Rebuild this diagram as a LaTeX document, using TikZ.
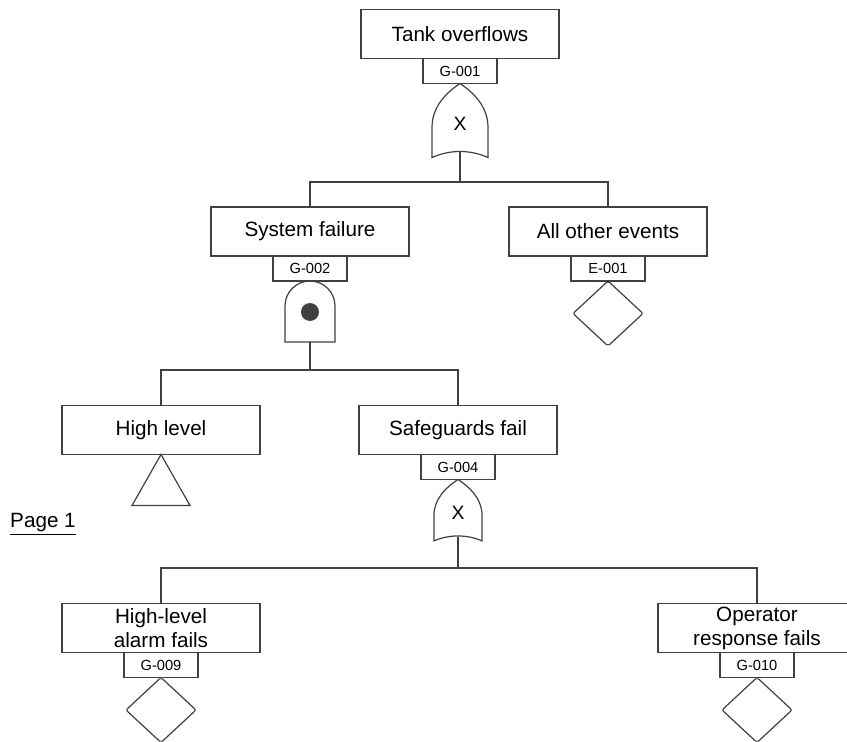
\documentclass[tikz,border=0pt]{standalone}
\usepackage{fontspec}
\setmainfont{Liberation Sans}
\usetikzlibrary{shapes.geometric}
\definecolor{linecol}{HTML}{404040}

\begin{document}
\begin{tikzpicture}[x=0.75pt, y=-0.75pt,
  wire/.style={draw=linecol, line width=0.9pt},
  event/.style={wire, outer sep=0pt, inner sep=0pt, minimum width=148.5pt, minimum height=36.75pt,
    align=center, font=\fontsize{15.5}{18}\selectfont},
  tag/.style={wire, outer sep=0pt, inner sep=0pt, minimum width=55.5pt, minimum height=18.75pt,
    anchor=north, font=\fontsize{11}{12}\selectfont},
  undev/.style={diamond, wire, outer sep=0pt, inner sep=0pt, minimum width=52.5pt, minimum height=48.75pt,
    rounded corners=1.5pt, anchor=north},
  pics/orgate/.style={code={
    \draw[wire] (-28,74) -- (-28,44) .. controls (-28,22) and (-12,8) .. (0,0)
      .. controls (12,8) and (28,22) .. (28,44) -- (28,74)
      .. controls (10,66) and (-10,66) .. cycle;
    \node[font=\fontsize{14.5}{15}\selectfont] at (0,40) {X};
    \coordinate (-out) at (0,69);
  }},
  pics/andgate/.style={code={
    \draw[wire] (-25,61) -- (-25,25) .. controls (-25,11.2) and (-13.8,0) .. (0,0)
      .. controls (13.8,0) and (25,11.2) .. (25,25) -- (25,61) -- cycle;
    \fill[linecol] (0,31) circle (6.75pt); % dot
    \coordinate (-out) at (0,61);
  }}]
  \useasboundingbox (0,0) rectangle (847,742);
  \clip (0,0) rectangle (847,742);

  % top event
  \node[event] (top) at (460,34) {Tank overflows};
  \node[tag] (t1) at (top.south) {G-001};
  \pic (or1) at (t1.south) {orgate};
  \coordinate (bus1) at (460,182);

  % second level
  \node[event] (sys) at (310,231.5) {System failure};
  \node[tag] (t2) at (sys.south) {G-002};
  \pic (and1) at (t2.south) {andgate};
  \node[event] (other) at (608,231.5) {All other events};
  \node[tag] (e1) at (other.south) {E-001};
  \node[undev] (d1) at (e1.south) {};
  \coordinate (bus2) at (310,370);

  % third level
  \node[event] (hl) at (161,430) {High level};
  \draw[wire] (hl.south) -- ++(29,51) -- ++(-58,0) -- cycle; % transfer
  \node[event] (safe) at (458,430) {Safeguards fail};
  \node[tag] (t4) at (safe.south) {G-004};
  \pic[xscale=0.86, yscale=0.83] (or2) at (t4.south) {orgate};
  \coordinate (bus3) at (458,568);

  % bottom level
  \node[event] (alarm) at (161,628) {High-level\\alarm fails};
  \node[tag] (t9) at (alarm.south) {G-009};
  \node[undev] (d9) at (t9.south) {};
  \node[event] (oper) at (757,628) {Operator\\response fails};
  \node[tag] (t10) at (oper.south) {G-010};
  \node[undev] (d10) at (t10.south) {};

  \node[font=\fontsize{15.5}{18}\selectfont] (page) at (43,524) {\underline{Page 1}};

  % connectors
  \draw[wire] (or1-out) -- (bus1) -| (sys.north);
  \draw[wire] (bus1) -| (other.north);
  \draw[wire] (and1-out) -- (bus2) -| (hl.north);
  \draw[wire] (bus2) -| (safe.north);
  \draw[wire] (or2-out) -- (bus3) -| (alarm.north);
  \draw[wire] (bus3) -| (oper.north);
\end{tikzpicture}
\end{document}
